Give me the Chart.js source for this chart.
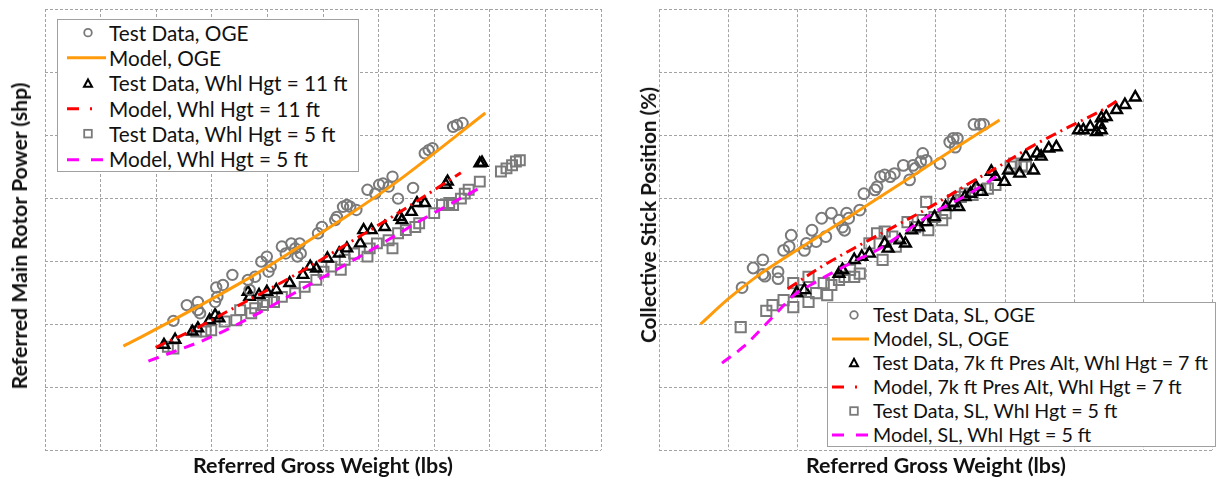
<!DOCTYPE html>
<html><head><meta charset="utf-8">
<script src="https://cdn.jsdelivr.net/npm/chart.js@4.4.1/dist/chart.umd.min.js"></script>
<style>
html,body{margin:0;padding:0;background:#fff;overflow:hidden;width:1216px;height:482px;}
#wrap{position:relative;width:1216px;height:482px;overflow:hidden;}
canvas{position:absolute;top:0;}
.legend{position:absolute;background:#fff;border:1px solid #a0a0a0;box-sizing:border-box;font-family:Lato,sans-serif;color:#111;}
.row{position:absolute;left:0;right:0;}
.row span{position:absolute;white-space:nowrap;top:50%;transform:translateY(-52%);}
.row svg{position:absolute;top:0;left:0;}
.ytitle{position:absolute;font-family:Lato,sans-serif;font-weight:bold;color:#111;white-space:nowrap;transform:translate(-50%,-50%) rotate(-90deg);}
</style></head>
<body><div id="wrap">
<canvas id="c1" width="610" height="482" style="left:0;width:610px;height:482px"></canvas>
<canvas id="c2" width="612" height="482" style="left:610px;width:612px;height:482px"></canvas>
</div>
<script>
// ---------------- DATA (left panel) ----------------
const leftXTitle = "Referred Gross Weight (lbs)";
const leftYTitle = "Referred Main Rotor Power (shp)";
const leftLabels = ["Test Data, OGE","Model, OGE","Test Data, Whl Hgt = 11 ft","Model, Whl Hgt = 11 ft","Test Data, Whl Hgt = 5 ft","Model, Whl Hgt = 5 ft"];
const leftTestOGE = [[2.31,2.05],[2.55,2.30],[2.75,2.35],[2.79,2.17],[2.75,2.22],[3.08,2.58],[3.06,2.35],[3.10,2.43],[3.20,2.62],[3.37,2.78],[3.65,2.70],[3.68,2.54],[3.78,2.75],[3.89,2.99],[3.99,3.07],[4.06,2.91],[4.02,2.83],[4.26,3.23],[4.33,3.12],[4.43,3.28],[4.50,3.20],[4.54,3.07],[4.60,3.12],[4.58,3.28],[4.91,3.44],[4.98,3.54],[5.25,3.70],[5.22,3.65],[5.36,3.86],[5.43,3.89],[5.49,3.86],[5.60,3.81],[5.80,4.13],[5.94,4.07],[6.01,4.21],[6.08,4.23],[6.18,4.18],[6.25,4.34],[6.35,3.99],[6.62,4.16],[6.83,4.71],[6.90,4.76],[6.97,4.79],[7.34,5.13],[7.41,5.16],[7.51,5.19]];
const leftModelOGE = [[1.41,1.65],[1.70,1.78],[3.61,2.70],[4.56,3.22],[5.46,3.73],[6.30,4.24],[7.92,5.35]];
const leftTest11 = [[2.14,1.67],[2.34,1.75],[2.65,1.88],[2.75,1.93],[2.96,2.06],[3.06,2.14],[3.13,2.09],[3.65,2.51],[3.68,2.43],[3.85,2.46],[3.99,2.51],[4.16,2.54],[4.40,2.65],[4.64,2.78],[4.77,2.91],[4.88,2.88],[5.08,3.04],[5.29,3.12],[5.43,3.20],[5.67,3.28],[5.73,3.49],[5.87,3.49],[6.11,3.54],[6.38,3.70],[6.42,3.65],[6.59,3.78],[6.69,3.92],[6.83,3.92],[7.21,4.21],[7.24,4.26],[7.82,4.55],[7.86,4.56]];
const leftModel11 = [[1.99,1.63],[2.65,1.90],[3.26,2.19],[4.56,2.81],[5.64,3.38],[6.35,3.76],[7.48,4.40]];
const leftTest5 = [[2.21,1.64],[2.31,1.61],[2.72,1.88],[2.89,1.88],[2.99,1.90],[3.23,2.04],[3.44,2.06],[3.51,2.22],[3.71,2.17],[3.78,2.25],[3.92,2.30],[3.99,2.35],[4.12,2.35],[4.26,2.43],[4.50,2.49],[4.67,2.59],[4.88,2.70],[5.01,2.83],[5.15,2.91],[5.32,2.86],[5.39,3.02],[5.56,3.12],[5.80,3.07],[5.84,3.20],[5.97,3.28],[6.18,3.33],[6.25,3.20],[6.35,3.44],[6.49,3.49],[6.66,3.54],[6.73,3.60],[7.00,3.76],[7.14,3.89],[7.27,3.92],[7.34,3.89],[7.48,3.99],[7.55,4.07],[7.62,4.13],[7.82,4.26],[8.20,4.42],[8.30,4.47],[8.40,4.52],[8.47,4.58],[8.54,4.60]];
const leftModel5 = [[1.86,1.41],[3.08,1.83],[4.79,2.64],[5.76,3.12],[6.83,3.68],[7.84,4.17]];

// ---------------- DATA (right panel) ----------------
const rightXTitle = "Referred Gross Weight (lbs)";
const rightYTitle = "Collective Stick Position (%)";
const rightLabels = ["Test Data, SL, OGE","Model, SL, OGE","Test Data, 7k ft Pres Alt, Whl Hgt = 7 ft","Model, 7k ft Pres Alt, Whl Hgt = 7 ft","Test Data, SL, Whl Hgt = 5 ft","Model, SL, Whl Hgt = 5 ft"];
const rightTestOGE = [[1.20,2.58],[1.36,2.89],[1.50,3.02],[1.50,2.79],[1.53,2.76],[1.72,2.83],[1.72,2.72],[1.80,3.17],[1.88,3.23],[1.91,3.41],[2.10,3.17],[2.13,3.28],[2.21,3.49],[2.27,3.31],[2.35,3.68],[2.41,3.39],[2.49,3.76],[2.60,3.65],[2.65,3.54],[2.68,3.49],[2.71,3.76],[2.74,3.68],[2.90,3.81],[2.96,4.07],[3.12,4.13],[3.15,4.18],[3.20,4.34],[3.26,4.37],[3.34,4.34],[3.40,4.39],[3.53,4.52],[3.62,4.29],[3.67,4.52],[3.70,4.47],[3.78,4.58],[3.81,4.71],[3.86,4.60],[4.06,4.55],[4.20,4.89],[4.25,4.95],[4.28,4.81],[4.31,4.95],[4.55,5.17],[4.64,5.17],[4.69,5.17]];
const rightModelOGE = [[0.60,2.00],[1.00,2.40],[1.38,2.73],[1.80,3.04],[2.33,3.41],[2.87,3.79],[3.42,4.18],[3.98,4.58],[4.53,4.97],[4.92,5.24]];
const rightTest7k = [[1.99,2.49],[2.10,2.54],[2.60,2.80],[2.65,2.86],[2.82,3.02],[2.93,3.07],[3.04,3.12],[3.26,3.28],[3.31,3.20],[3.48,3.33],[3.56,3.28],[3.65,3.49],[3.75,3.54],[3.86,3.62],[3.98,3.70],[4.14,3.86],[4.25,3.92],[4.33,3.86],[4.42,4.02],[4.50,4.07],[4.58,4.18],[4.66,4.10],[4.80,4.42],[4.86,4.34],[4.99,4.26],[5.05,4.44],[5.21,4.39],[5.30,4.66],[5.41,4.44],[5.46,4.71],[5.52,4.66],[5.63,4.79],[5.74,4.81],[6.06,5.08],[6.13,5.08],[6.23,5.13],[6.32,5.05],[6.39,5.08],[6.37,5.16],[6.39,5.27],[6.46,5.29],[6.61,5.40],[6.73,5.48],[6.88,5.60]];
const rightModel7k = [[1.86,2.56],[2.33,2.90],[2.81,3.20],[3.52,3.62],[3.95,3.88],[4.49,4.24],[4.95,4.53],[5.40,4.83],[5.92,5.13],[6.42,5.41],[6.61,5.54]];
const rightTest5 = [[1.18,1.95],[1.55,2.21],[1.64,2.30],[1.80,2.38],[1.94,2.27],[1.94,2.65],[2.05,2.54],[2.16,2.75],[2.16,2.35],[2.27,2.49],[2.38,2.65],[2.43,2.46],[2.49,2.62],[2.60,2.70],[2.68,2.75],[2.76,2.86],[2.82,2.75],[2.90,2.80],[3.04,3.28],[3.15,3.44],[3.23,3.02],[3.26,3.47],[3.37,3.39],[3.42,3.23],[3.59,3.62],[3.70,3.54],[3.81,3.65],[3.86,3.94],[3.89,3.49],[3.98,3.70],[4.09,3.65],[4.14,3.76],[4.25,3.97],[4.36,4.02],[4.42,4.07],[4.53,4.05],[4.64,4.13],[4.75,4.15],[4.86,4.21],[5.08,4.50],[5.13,4.55],[5.24,4.52],[5.30,4.50]];
const rightModel5 = [[0.91,1.38],[1.22,1.64],[1.53,1.98],[1.72,2.20],[1.95,2.46],[2.19,2.62],[2.48,2.80],[2.81,2.99],[3.19,3.20],[3.52,3.44],[3.95,3.76],[4.45,4.05],[4.95,4.40]];

// ---------------- STYLES ----------------
const GRID = '#a3a3a3';
const GRAY = '#7a7a7a';
const ORANGE = '#ff9b0a';
const RED = '#ff0000';
const MAGENTA = '#ff00ff';
const FONT = 'Lato, sans-serif';

function fit(text, weight, target) {
  const c = document.createElement('canvas').getContext('2d');
  c.font = weight + ' 100px ' + FONT;
  return 100 * target / c.measureText(text).width;
}
const xy = a => a.map(p => ({x: p[0], y: p[1]}));

function markers(label, data, style, color, r, bw) {
  return {label, data: xy(data), showLine: false, pointStyle: style, pointRadius: r, pointHoverRadius: r,
    pointBorderColor: color, pointBackgroundColor: 'rgba(0,0,0,0)', pointBorderWidth: bw, order: 1};
}
function line(label, data, color, dash) {
  return {label, data: xy(data), showLine: true, pointRadius: 0, borderColor: color, borderWidth: 3,
    borderDash: dash, cubicInterpolationMode: 'monotone', fill: false, order: 0, borderCapStyle: 'butt'};
}

function axis(max, title, titleSize, fitFn) {
  return {
    type: 'linear', min: 0, max: max,
    ticks: {display: false, stepSize: 1},
    grid: {color: GRID, lineWidth: 1, drawTicks: false, tickLength: 0},
    border: {display: false, dash: [3, 2]},
    title: title ? {display: true, text: title, color: '#111',
      font: {family: FONT, weight: 'bold', size: titleSize, lineHeight: 1.2},
      padding: {top: 0, bottom: 482 - 466 - titleSize * 0.6}} : {display: false},
    afterFit: fitFn
  };
}

function makeChart(id, datasets, xMax, yAxisW, padRight, xTitle) {
  const ts = fit(xTitle, 'bold', 260);
  return new Chart(document.getElementById(id), {
    type: 'scatter',
    data: {datasets},
    options: {
      responsive: false, animation: false,
      layout: {padding: {top: 9, right: padRight, left: 0, bottom: 0}},
      plugins: {legend: {display: false}, tooltip: {enabled: false}},
      scales: {
        x: axis(xMax, xTitle, ts, s => { s.height = 32; }),
        y: axis(7, null, 0, s => { s.width = yAxisW; })
      }
    }
  });
}

makeChart('c1', [
  line(leftLabels[1], leftModelOGE, ORANGE, []),
  line(leftLabels[3], leftModel11, RED, [11, 5, 2, 5]),
  line(leftLabels[5], leftModel5, MAGENTA, [11, 8]),
  markers(leftLabels[0], leftTestOGE, 'circle', GRAY, 5.2, 2),
  markers(leftLabels[2], leftTest11, 'triangle', '#000', 6, 2.4),
  markers(leftLabels[4], leftTest5, 'rect', GRAY, 7, 2)
], 10, 45, 6, leftXTitle);

makeChart('c2', [
  line(rightLabels[1], rightModelOGE, ORANGE, []),
  line(rightLabels[3], rightModel7k, RED, [11, 5, 2, 5]),
  line(rightLabels[5], rightModel5, MAGENTA, [11, 8]),
  markers(rightLabels[0], rightTestOGE, 'circle', GRAY, 5.4, 2),
  markers(rightLabels[2], rightTest7k, 'triangle', '#000', 6.2, 2.4),
  markers(rightLabels[4], rightTest5, 'rect', GRAY, 7.2, 2)
], 8, 49, 2, rightXTitle);

// ---------------- Y titles (HTML text) ----------------
const wrap = document.getElementById('wrap');
function ytitle(text, cx, cy, target) {
  const d = document.createElement('div');
  d.className = 'ytitle';
  d.textContent = text;
  d.style.fontSize = fit(text, 'bold', target) + 'px';
  d.style.left = cx + 'px'; d.style.top = cy + 'px';
  wrap.appendChild(d);
}
ytitle(leftYTitle, 18.5, 236, 308);
ytitle(rightYTitle, 648, 215, 256);

// ---------------- Legends (HTML) ----------------
function symbolSvg(kind, cx, x1, x2, h) {
  const cy = h / 2;
  let s = '';
  if (kind === 'circle') s = `<circle cx="${cx}" cy="${cy}" r="3.8" fill="none" stroke="${GRAY}" stroke-width="1.8"/>`;
  if (kind === 'triangle') s = `<polygon points="${cx},${cy-4.2} ${cx+4},${cy+3.2} ${cx-4},${cy+3.2}" fill="none" stroke="#000" stroke-width="2"/>`;
  if (kind === 'rect') s = `<rect x="${cx-3.8}" y="${cy-3.8}" width="7.6" height="7.6" fill="none" stroke="${GRAY}" stroke-width="1.8"/>`;
  if (kind === 'solid') s = `<line x1="${x1}" y1="${cy}" x2="${x2}" y2="${cy}" stroke="${ORANGE}" stroke-width="3"/>`;
  if (kind === 'dashdot') s = `<line x1="${x1}" y1="${cy}" x2="${x2}" y2="${cy}" stroke="${RED}" stroke-width="3" stroke-dasharray="12 11 2 100"/>`;
  if (kind === 'dash') s = `<line x1="${x1}" y1="${cy}" x2="${x2}" y2="${cy}" stroke="${MAGENTA}" stroke-width="3" stroke-dasharray="12 12"/>`;
  return `<svg width="${x2 + 10}" height="${h}">${s}</svg>`;
}
const kinds = ['circle', 'solid', 'triangle', 'dashdot', 'rect', 'dash'];
function legend(labels, box, rowH, textX, symX, lx1, lx2, longest, target) {
  const d = document.createElement('div');
  d.className = 'legend';
  Object.assign(d.style, {left: box[0] + 'px', top: box[1] + 'px', width: box[2] + 'px', height: box[3] + 'px'});
  const fs = fit(longest, 'normal', target);
  labels.forEach((t, i) => {
    const r = document.createElement('div');
    r.className = 'row';
    r.style.top = (i * rowH) + 'px'; r.style.height = rowH + 'px';
    r.innerHTML = symbolSvg(kinds[i], symX, lx1, lx2, rowH) +
      `<span style="left:${textX}px;font-size:${fs}px">${t}</span>`;
    d.appendChild(r);
  });
  wrap.appendChild(d);
}
legend(leftLabels, [57, 19, 302, 153], 25.3, 51, 30, 9, 48, leftLabels[2], 239);
legend(rightLabels, [827, 302, 389, 145], 24, 45, 26, 4, 41, rightLabels[2], 336);
</script>
</body></html>
